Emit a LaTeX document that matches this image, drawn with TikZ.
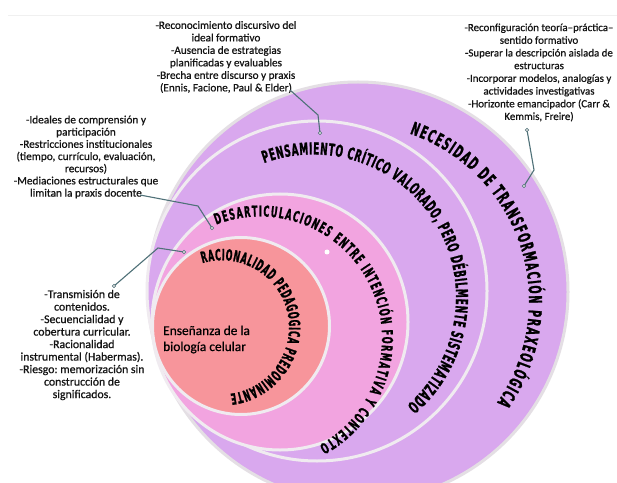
\documentclass[tikz,border=0pt]{standalone}
\usepackage{fontspec}
\setmainfont{Carlito}
\frenchspacing
\newfontfamily\notefont{Carlito}[FakeBold=0.7]
\newfontfamily\condA{DejaVu Sans}[FakeStretch=0.54, FakeBold=1.2]
\newfontfamily\condB{DejaVu Sans}[FakeStretch=0.50, FakeBold=1.2]
\usetikzlibrary{decorations.text}
\definecolor{lav}{RGB}{217,168,238}
\definecolor{pinkc}{RGB}{242,164,224}
\definecolor{salm}{RGB}{247,149,155}
\definecolor{rim}{RGB}{240,235,240}
\definecolor{rimout}{RGB}{228,223,228}
\definecolor{conn}{RGB}{79,113,120}
\begin{document}
\begin{tikzpicture}[x=1pt,y=1pt,
  ring/.style={circle, inner sep=0pt, line width=3pt, draw=rim},
  note/.style={align=center, inner sep=0pt, text=black!92},
  link/.style={draw=conn, line width=1.1pt},
  tipdot/.style={circle, draw=conn, fill=gray!25, line width=0.6pt, inner sep=0pt, minimum size=3.5pt}
]
\useasboundingbox (0,0) rectangle (617,482);
\clip (0,0) rectangle (617,482);
\fill[white] (0,0) rectangle (617,482);
\draw[gray!12, line width=0.8pt] (8,467) -- (617,467);

\node[ring, fill=lav, draw=rimout, minimum size=420pt] (c4) at (358,190) {};
\node[ring, fill=lav, minimum size=340pt] (c3) at (317,191) {};
\node[ring, fill=pinkc, minimum size=256pt] (c2) at (280,160) {};
\node[ring, fill=salm, minimum size=177pt] (c1) at (241,156) {};
\node[circle, fill=white, inner sep=0pt, minimum size=5pt] (wdot) at (327,230) {};

\path[decorate, decoration={text along path, text align={fit to path},
  text={|\condA\bfseries\fontsize{17.8}{18}\selectfont|NECESIDAD DE TRANSFORMACIÓN PRAXEOLÓGICA}}]
  (352,181) ++(71:177pt) arc[start angle=71, end angle=-35, radius=177pt];
\path[decorate, decoration={text along path, text align={fit to path},
  text={|\condA\bfseries\fontsize{16.5}{17}\selectfont|PENSAMIENTO CRÍTICO VALORADO, PERO DÉBILMENTE SISTEMATIZADO}}]
  (313,184.5) ++(110:143pt) arc[start angle=110, end angle=-49, radius=143pt];
\path[decorate, decoration={text along path, text align={fit to path},
  text={|\condA\bfseries\fontsize{15}{16}\selectfont|DESARTICULACIONES ENTRE INTENCIÓN FORMATIVA Y CONTEXTO}}]
  (260,143.5) ++(111:122pt) arc[start angle=111, end angle=-61, radius=122pt];
\path[decorate, decoration={text along path, text align={fit to path},
  text={|\condB\bfseries\fontsize{15.5}{16}\selectfont|RACIONALIDAD PEDAGOGICA PREDOMINANTE}}]
  (222,154.7) ++(107:67pt) arc[start angle=107, end angle=-83, radius=67pt];

\node[align=left, anchor=west, font=\notefont\fontsize{13.4}{16}\selectfont, inner sep=0pt] (core) at (163,142.5) {Enseñanza de la\\biología celular};

\node[note, font=\notefont\fontsize{11.2}{12.5}\selectfont] (top) at (226,425) {-Reconocimiento discursivo del\\ideal formativo\\-Ausencia de estrategias\\planificadas y evaluables\\-Brecha entre discurso y praxis\\(Ennis, Facione, Paul \& Elder)};
\node[note, font=\notefont\fontsize{10.9}{12.7}\selectfont] (right) at (539,409.5) {-Reconfiguración teoría–práctica–\\sentido formativo\\-Superar la descripción aislada de\\estructuras\\-Incorporar modelos, analogías y\\actividades investigativas\\-Horizonte emancipador (Carr \&\\Kemmis, Freire)};
\node[note, font=\notefont\fontsize{11.3}{12.2}\selectfont] (mid) at (86,325) {-Ideales de comprensión y\\participación\\-Restricciones institucionales\\(tiempo, currículo, evaluación,\\recursos)\\-Mediaciones estructurales que\\limitan la praxis docente};
\node[note, font=\notefont\fontsize{11.8}{12.5}\selectfont] (low) at (82,137) {-Transmisión de\\contenidos.\\-Secuencialidad y\\cobertura curricular.\\-Racionalidad\\instrumental (Habermas).\\-Riesgo: memorización sin\\construcción de\\significados.};

\coordinate (t1) at (290,392); \coordinate (t2) at (318,367); \coordinate (t3) at (320,349);
\draw[link] (t1) -- (t2) -- (t3);
\node[tipdot] (t3d) at (t3) {};
\coordinate (r1) at (527,352); \coordinate (r2) at (534,312); \coordinate (r3) at (524,296);
\draw[link] (r1) -- (r2) -- (r3);
\node[tipdot] (r1d) at (r1) {};
\node[tipdot] (r3d) at (r3) {};
\coordinate (m1) at (140,287); \coordinate (m2) at (198,276); \coordinate (m3) at (212,254);
\draw[link] (m1) -- (m2) -- (m3);
\node[tipdot] (m3d) at (m3) {};
\coordinate (l1) at (114,196); \coordinate (l2) at (158,234); \coordinate (l3) at (184,230);
\draw[link] (l1) -- (l2) -- (l3);
\node[tipdot] (l1d) at (l1) {};
\node[tipdot] (l3d) at (l3) {};
\end{tikzpicture}
\end{document}
